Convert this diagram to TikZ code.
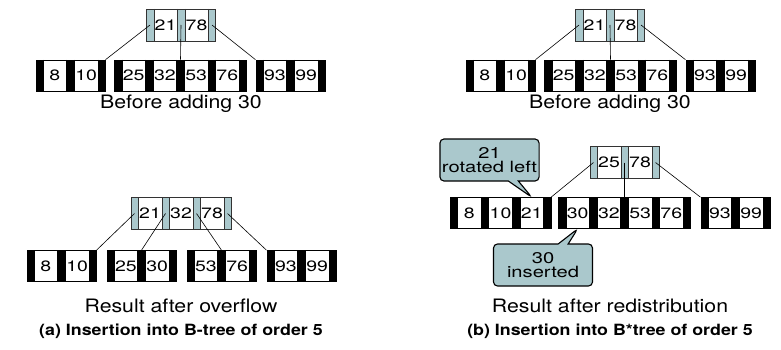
\documentclass[tikz,border=0pt]{standalone}
\usepackage{fontspec}
\setmainfont[FakeStretch=1.3]{TeX Gyre Heros}
\newfontfamily\capfont[FakeStretch=1.15]{TeX Gyre Heros}
\usetikzlibrary{shapes.multipart,shapes.callouts}

\definecolor{ptrblue}{RGB}{170,200,204}

\newcommand{\pcell}{\makebox[7pt]{}}
\newcommand{\kcell}[1]{\makebox[23pt]{#1}}
\newcommand{\twokeys}[2]{\pcell\nodepart{two}\kcell{#1}\nodepart{three}\pcell\nodepart{four}\kcell{#2}\nodepart{five}\pcell}
\newcommand{\threekeys}[3]{\twokeys{#1}{#2}\nodepart{six}\kcell{#3}\nodepart{seven}\pcell}
\newcommand{\fourkeys}[4]{\threekeys{#1}{#2}{#3}\nodepart{eight}\kcell{#4}\nodepart{nine}\pcell}

\begin{document}
\begin{tikzpicture}[
x=1pt, y=-1pt,
bnode/.style={rectangle split, rectangle split horizontal, rectangle split ignore empty parts=false,
  rectangle split draw splits=true, draw, inner xsep=0pt, inner ysep=0pt, font=\fontsize{15}{16}\selectfont},
inode/.style={bnode, line width=0.5pt, draw=black!80, minimum height=32pt,
  rectangle split part fill={ptrblue,white,ptrblue,white,ptrblue,white,ptrblue}},
leaf/.style={bnode, line width=0.6pt, minimum height=31pt,
  rectangle split part fill={black,white,black,white,black,white,black,white,black}},
ptr/.style={line width=0.6pt},
caption/.style={font=\capfont\fontsize{18.5}{20}\selectfont},
title/.style={font=\capfont\bfseries\fontsize{15.5}{17}\selectfont},
note/.style={rectangle callout, fill=ptrblue, draw, line width=1.1pt, rounded corners=4pt,
  align=center, minimum width=99pt, minimum height=42pt, inner sep=2pt,
  font=\fontsize{15.5}{14}\selectfont, callout pointer width=10pt}
]
\useasboundingbox (0,0) rectangle (781,350);

% (a) before
\node[inode, rectangle split parts=5] (ta) at (181,25) {\twokeys{21}{78}};
\node[leaf, rectangle split parts=5] (la1) at (70.5,75.5) {\twokeys{8}{10}};
\node[leaf, rectangle split parts=9] (la2) at (180.5,75.5) {\fourkeys{25}{32}{53}{76}};
\node[leaf, rectangle split parts=5] (la3) at (290.5,75.5) {\twokeys{93}{99}};
\node[caption] (capa) at (181,104) {Before adding 30};

\draw[ptr] (ta.one north |- ta.center) -- (la1.north east);
\draw[ptr] (ta.three north |- ta.center) -- (la2.five north);
\draw[ptr] (ta.five north |- ta.center) -- (la3.north west);

% (a) after overflow
\node[inode, rectangle split parts=7] (tb) at (181,213.5) {\threekeys{21}{32}{78}};
\node[leaf, rectangle split parts=5] (lb1) at (61.5,266) {\twokeys{8}{10}};
\node[leaf, rectangle split parts=5] (lb2) at (141.5,266) {\twokeys{25}{30}};
\node[leaf, rectangle split parts=5] (lb3) at (221.5,266) {\twokeys{53}{76}};
\node[leaf, rectangle split parts=5] (lb4) at (301.5,266) {\twokeys{93}{99}};
\node[caption] (capb) at (181,306) {Result after overflow};
\node[title] (tita) at (181,331) {(a) Insertion into B-tree of order 5};

\draw[ptr] (tb.one north |- tb.center) -- (lb1.north east);
\draw[ptr] (tb.three north |- tb.center) -- (lb2.three north);
\draw[ptr] (tb.five north |- tb.center) -- (lb3.three north);
\draw[ptr] (tb.seven north |- tb.center) -- (lb4.north west);

% (b) before
\node[inode, rectangle split parts=5] (tc) at (610,25) {\twokeys{21}{78}};
\node[leaf, rectangle split parts=5] (lc1) at (500.5,75.5) {\twokeys{8}{10}};
\node[leaf, rectangle split parts=9] (lc2) at (610.5,75.5) {\fourkeys{25}{32}{53}{76}};
\node[leaf, rectangle split parts=5] (lc3) at (720.5,75.5) {\twokeys{93}{99}};
\node[caption] (capc) at (610,104) {Before adding 30};

\draw[ptr] (tc.one north |- tc.center) -- (lc1.north east);
\draw[ptr] (tc.three north |- tc.center) -- (lc2.five north);
\draw[ptr] (tc.five north |- tc.center) -- (lc3.north west);

% (b) after redistribution
\node[inode, rectangle split parts=5] (td) at (624.5,162.5) {\twokeys{25}{78}};
\node[leaf, rectangle split parts=7] (ld1) at (500.5,213) {\threekeys{8}{10}{21}};
\node[leaf, rectangle split parts=9] (ld2) at (624.5,213) {\fourkeys{30}{32}{53}{76}};
\node[leaf, rectangle split parts=5] (ld3) at (735.5,213) {\twokeys{93}{99}};
\node[caption] (capd) at (610,306) {Result after redistribution};
\node[title] (titb) at (610,331) {(b) Insertion into B*tree of order 5};

\draw[ptr] (td.one north |- td.center) -- (ld1.north east);
\draw[ptr] (td.three north |- td.center) -- (ld2.five north);
\draw[ptr] (td.five north |- td.center) -- (ld3.north west);

\node[note, callout absolute pointer={(ld1.six north)}] (rot) at (489.5,160) {21\\rotated left};
\node[note, callout absolute pointer={(ld2.two south)}] (ins) at (543,265) {30\\inserted};
\end{tikzpicture}
\end{document}
